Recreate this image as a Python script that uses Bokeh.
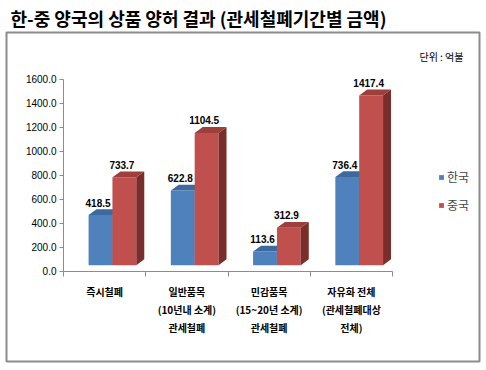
from bokeh.plotting import figure
from bokeh.models import (FixedTicker, PrintfTickFormatter, Legend, LegendItem,
                          Label, ColumnDataSource)
from bokeh.core.properties import value
from bokeh.embed import file_html
from bokeh.resources import INLINE

categories = ["즉시철폐", "일반품목\n(10년내 소계)\n관세철폐",
              "민감품목\n(15~20년 소계)\n관세철폐", "자유화 전체\n(관세철폐대상\n전체)"]
korea = [418.5, 622.8, 113.6, 736.4]
china = [733.7, 1104.5, 312.9, 1417.4]
y_ticks = [0, 200, 400, 600, 800, 1000, 1200, 1400, 1600]
series_names = ["한국", "중국"]

KFONT = "Noto Sans CJK KR"

# ---- pixel geometry (canvas px) ----
W, H = 486, 370
FL, FR, FT, FB = 6, 479, 28, 361        # frame (= bordered box) edges
AX_X, AX_Y = 63, 269.5                   # y-axis x position, x-axis y position
PX_CAT = 82.25                           # px per category
PX_VAL = 194.0 / 1600                    # px per value unit

x_start = -(AX_X - FL) / PX_CAT
x_end = (FR - AX_X) / PX_CAT
y_start = -(FB - AX_Y) / PX_VAL
y_end = (AX_Y - FT) / PX_VAL

BASE = 49      # raised floor of the 3D front face (value units)
DX = 0.097     # depth offset in category units
DY = 49        # depth offset in value units
BW = 0.29      # bar front width in category units
OFF = 0.305    # first bar offset in category

p = figure(width=W, height=H, output_backend="svg", toolbar_location=None,
           x_range=(x_start, x_end), y_range=(y_start, y_end),
           min_border_left=FL, min_border_right=W - FR, min_border_top=FT,
           min_border_bottom=H - FB)
p.title.text = "한-중 양국의 상품 양허 결과 (관세철폐기간별 금액)"
p.title.text_font = KFONT
p.title.text_font_size = "18px"
p.title.text_font_style = "bold"
p.title.text_color = "black"
p.title.align = "left"
p.title.offset = 4
p.title.standoff = 4
p.outline_line_color = "#8C8C8C"
p.outline_line_width = 2
p.xgrid.visible = False
p.ygrid.visible = False
p.background_fill_color = "white"

styles = [
    dict(front="#4F81BD", top="#3C6A9E", side="#2E5380"),
    dict(front="#C0504D", top="#9E3F3C", side="#7A2E2C"),
]

renderers = []
for si, vals in enumerate([korea, china]):
    st = styles[si]
    x0 = [i + OFF + si * BW for i in range(len(vals))]
    x1 = [a + BW for a in x0]
    bot = [BASE for _ in vals]
    top = [BASE + v for v in vals]
    r = p.quad(left=x0, right=x1, bottom=bot, top=top, fill_color=st["front"],
               line_color=None)
    renderers.append(r)
    top_xs = [[a, b, b + DX, a + DX] for a, b in zip(x0, x1)]
    top_ys = [[t, t, t + DY, t + DY] for t in top]
    p.patches(top_xs, top_ys, fill_color=st["top"], line_color=None)
    side_xs = [[b, b + DX, b + DX, b] for b in x1]
    side_ys = [[BASE, BASE + DY, t + DY, t] for t in top]
    p.patches(side_xs, side_ys, fill_color=st["side"], line_color=None)
    src = ColumnDataSource(dict(x=[a + BW / 2 - 0.03 for a in x0],
                                y=[t + DY + 22 for t in top],
                                t=["%.1f" % v for v in vals]))
    p.text(x="x", y="y", text="t", source=src, text_align="center",
           text_baseline="bottom", text_font=value("Liberation Sans"),
           text_font_size="10px", text_font_style="bold", text_color="black")

# axes (placed inside the bordered frame)
p.yaxis.fixed_location = 0
p.yaxis.bounds = (0, 1600)
p.yaxis.ticker = FixedTicker(ticks=y_ticks)
p.yaxis.formatter = PrintfTickFormatter(format="%.1f")
p.yaxis.axis_line_color = "#8C8C8C"
p.yaxis.major_tick_line_color = "#8C8C8C"
p.yaxis.major_tick_out = 4
p.yaxis.major_tick_in = 0
p.yaxis.minor_tick_line_color = None
p.yaxis.major_label_text_font = "Liberation Sans"
p.yaxis.major_label_text_font_size = "10px"
p.yaxis.major_label_text_color = "black"
p.yaxis.major_label_standoff = 3

centers = [i + 0.5 for i in range(len(categories))]
p.xaxis.fixed_location = 0
p.xaxis.bounds = (0, len(categories))
p.xaxis.ticker = FixedTicker(ticks=centers, minor_ticks=list(range(len(categories) + 1)))
p.xaxis.major_label_overrides = {c: lab for c, lab in zip(centers, categories)}
p.xaxis.axis_line_color = "#8C8C8C"
p.xaxis.major_tick_line_color = None
p.xaxis.minor_tick_line_color = "#8C8C8C"
p.xaxis.minor_tick_out = 5
p.xaxis.minor_tick_in = 0
p.xaxis.major_label_text_font = KFONT
p.xaxis.major_label_text_font_size = "10px"
p.xaxis.major_label_text_font_style = "bold"
p.xaxis.major_label_text_color = "black"
p.xaxis.major_label_text_line_height = 1.2
p.xaxis.major_label_standoff = 7

legend = Legend(items=[LegendItem(label=n, renderers=[r]) for n, r in zip(series_names, renderers)],
                location=(432, 148), padding=0, margin=0, border_line_color=None,
                background_fill_alpha=0, glyph_width=6, glyph_height=6,
                label_text_font=KFONT, label_text_font_size="12px", label_standoff=3,
                label_height=13, spacing=11)
p.add_layout(legend, "center")

p.add_layout(Label(x=457, y=305, x_units="screen", y_units="screen",
                   text="단위 : 억불", text_align="right",
                   text_baseline="middle", text_font=KFONT, text_font_size="10px",
                   text_color="black"))

open("out.html", "w").write(file_html(p, INLINE))
